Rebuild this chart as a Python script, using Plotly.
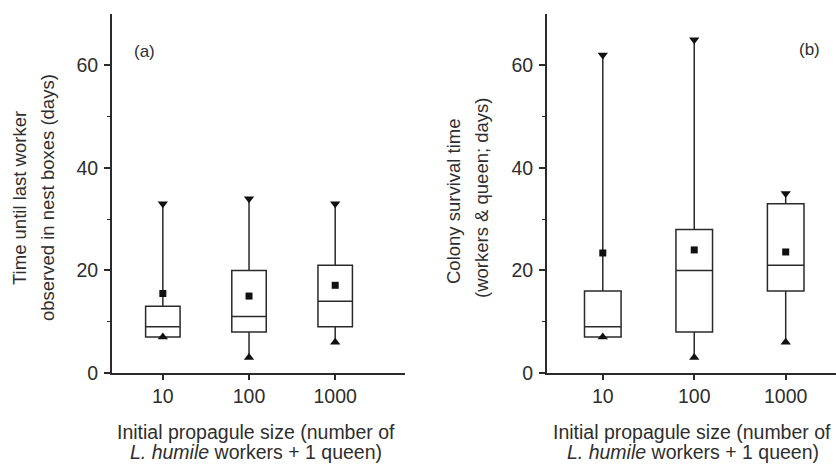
import plotly.graph_objects as go

W, H = 836, 464

categories = ["10", "100", "1000"]
cat_pos = [1, 2, 3]

# Panel (a): time until last worker observed in nest boxes (days)
a_min = [7, 3, 6]
a_q1 = [7, 8, 9]
a_median = [9, 11, 14]
a_q3 = [13, 20, 21]
a_max = [33, 34, 33]
a_mean = [15.5, 15, 17.1]

# Panel (b): colony survival time (workers & queen; days)
b_min = [7, 3, 6]
b_q1 = [7, 8, 16]
b_median = [9, 20, 21]
b_q3 = [16, 28, 33]
b_max = [62, 65, 35]
b_mean = [23.4, 24, 23.6]

y_ticks = [0, 20, 40, 60]
y_minor = [10, 30, 50]

INK = "#2a2a2a"
TXT = "#2e2e2e"
FONT = "Liberation Sans, Arial, sans-serif"

fig = go.Figure()


def add_panel(xa, ya, q1, med, q3, lo, hi, mean):
    fig.add_trace(go.Box(
        x=cat_pos, q1=q1, median=med, q3=q3, lowerfence=lo, upperfence=hi,
        width=0.4, whiskerwidth=0, boxpoints=False,
        fillcolor="rgba(0,0,0,0)", line=dict(color=INK, width=1.5),
        xaxis=xa, yaxis=ya, showlegend=False, hoverinfo="skip"))
    fig.add_trace(go.Scatter(
        x=cat_pos, y=hi, mode="markers", xaxis=xa, yaxis=ya, showlegend=False,
        marker=dict(symbol="triangle-down", size=9, color="#111")))
    fig.add_trace(go.Scatter(
        x=cat_pos, y=lo, mode="markers", xaxis=xa, yaxis=ya, showlegend=False,
        marker=dict(symbol="triangle-up", size=9, color="#111")))
    fig.add_trace(go.Scatter(
        x=cat_pos, y=mean, mode="markers", xaxis=xa, yaxis=ya, showlegend=False,
        marker=dict(symbol="square", size=7, color="#111")))


add_panel("x", "y", a_q1, a_median, a_q3, a_min, a_max, a_mean)
add_panel("x2", "y2", b_q1, b_median, b_q3, b_min, b_max, b_mean)

ydom = [1 - 373 / H, 1 - 14 / H]

common_x = dict(tickvals=cat_pos, ticktext=categories, ticks="outside", ticklen=5,
                tickwidth=1.6, tickcolor=INK, showline=True, linecolor=INK, linewidth=1.8,
                showgrid=False, zeroline=False, tickfont=dict(size=19.5, color=TXT, family=FONT))
common_y = dict(range=[0, 70], tickvals=y_ticks, ticks="outside", ticklen=6,
                tickwidth=1.6, tickcolor=INK, showline=True, linecolor=INK, linewidth=1.8,
                showgrid=False, zeroline=False, domain=ydom, ticklabelstandoff=2,
                minor=dict(tickvals=y_minor, ticks="outside", ticklen=3, tickcolor=INK, tickwidth=1.2),
                tickfont=dict(size=19.5, color=TXT, family=FONT))

fig.update_layout(
    width=W, height=H,
    margin=dict(l=0, r=0, t=0, b=0, autoexpand=False),
    paper_bgcolor="white", plot_bgcolor="white",
    font=dict(family=FONT, color=TXT),
    xaxis=dict(domain=[112 / W, 405 / W], range=[0.41, 3.81], anchor="y", **common_x),
    yaxis=dict(anchor="x", **common_y),
    xaxis2=dict(domain=[547 / W, 1.0], range=[0.39, 3.55], anchor="y2", **common_x),
    yaxis2=dict(anchor="x2", **common_y),
)


def ann(text, px, py, size=19.5, angle=0):
    fig.add_annotation(text=text, x=px / W, y=1 - py / H, xref="paper", yref="paper",
                       showarrow=False, textangle=angle, xanchor="center", yanchor="middle",
                       font=dict(size=size, color=TXT, family=FONT))


ann("Time until last worker", 19, 198, size=18.5, angle=-90)
ann("observed in nest boxes (days)", 47, 198, size=18.5, angle=-90)
ann("Colony survival time", 453, 201, size=18.5, angle=-90)
ann("(workers &amp; queen; days)", 481, 198, size=18.5, angle=-90)

ann("Initial propagule size (number of", 256, 432)
ann("<i>L. humile</i> workers + 1 queen)", 256, 452)
ann("Initial propagule size (number of", 692, 432)
ann("<i>L. humile</i> workers + 1 queen)", 693, 452)

ann("(a)", 144, 52, size=17)
ann("(b)", 809, 50, size=17)

js = """
document.documentElement.style.margin='0';
document.body.style.margin='0';
document.documentElement.style.overflow='hidden';
document.body.style.overflow='hidden';
"""

fig.write_html("out.html", config={"displayModeBar": False}, post_script=js)
